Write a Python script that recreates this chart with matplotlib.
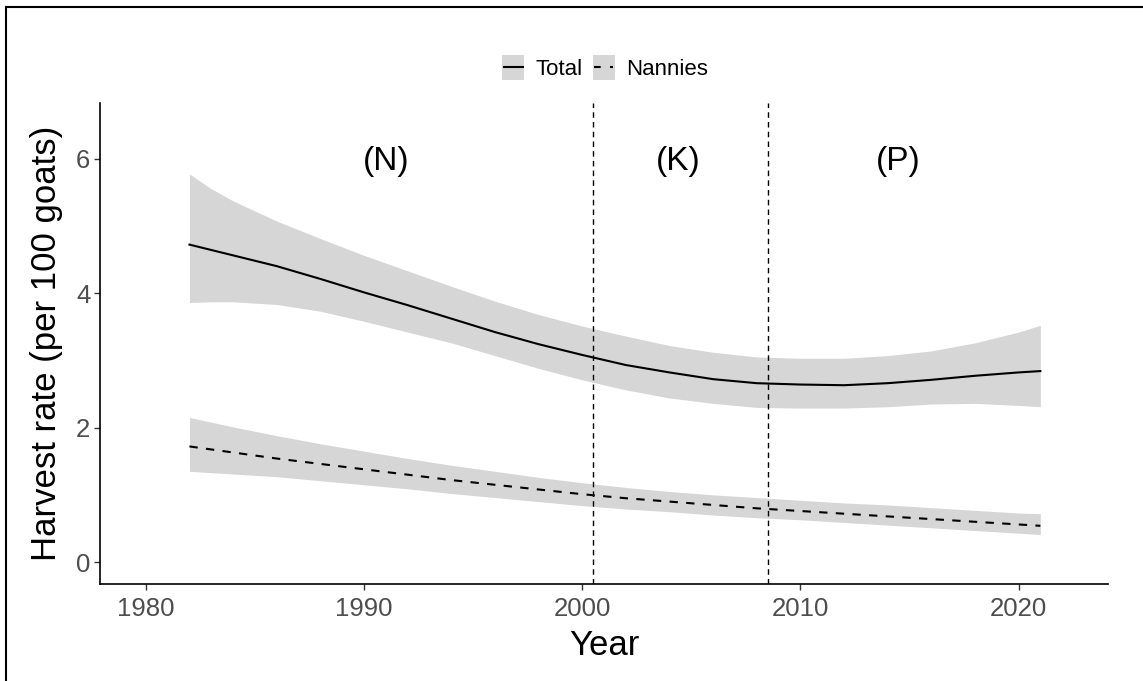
import matplotlib.pyplot as plt
from matplotlib.lines import Line2D
from matplotlib.patches import Rectangle
from matplotlib.legend_handler import HandlerBase

plt.rcParams['font.family'] = ['Liberation Sans', 'DejaVu Sans']

years = [1982, 1983, 1984, 1986, 1988, 1990, 1992, 1994, 1996, 1998, 2000,
         2002, 2004, 2006, 2008, 2010, 2012, 2014, 2016, 2018, 2020, 2021]

# fitted harvest rate (per 100 goats) with confidence band
total_fit = [4.72, 4.64, 4.56, 4.40, 4.21, 4.01, 3.82, 3.62, 3.42, 3.24, 3.08,
             2.93, 2.82, 2.72, 2.66, 2.64, 2.63, 2.66, 2.71, 2.77, 2.82, 2.84]
total_hi = [5.77, 5.55, 5.37, 5.07, 4.81, 4.56, 4.33, 4.10, 3.88, 3.68, 3.51,
            3.36, 3.22, 3.12, 3.05, 3.03, 3.03, 3.07, 3.14, 3.26, 3.42, 3.52]
total_lo = [3.86, 3.87, 3.87, 3.83, 3.73, 3.58, 3.42, 3.26, 3.07, 2.88, 2.71,
            2.56, 2.44, 2.36, 2.30, 2.29, 2.29, 2.31, 2.35, 2.36, 2.33, 2.31]

nanny_fit = [1.72, 1.675, 1.63, 1.54, 1.46, 1.38, 1.30, 1.22, 1.15, 1.08, 1.01,
             0.95, 0.90, 0.85, 0.80, 0.76, 0.72, 0.68, 0.64, 0.60, 0.56, 0.54]
nanny_hi = [2.15, 2.08, 2.01, 1.88, 1.76, 1.65, 1.54, 1.44, 1.35, 1.26, 1.18,
            1.11, 1.05, 1.00, 0.96, 0.92, 0.88, 0.85, 0.81, 0.77, 0.73, 0.72]
nanny_lo = [1.35, 1.33, 1.31, 1.27, 1.21, 1.15, 1.09, 1.02, 0.96, 0.90, 0.84,
            0.79, 0.75, 0.70, 0.66, 0.63, 0.59, 0.55, 0.51, 0.47, 0.43, 0.41]

breaks = [2000.5, 2008.5]
periods = ['(N)', '(K)', '(P)']
period_x = [1991, 2004.4, 2014.5]

band = '#d6d6d6'
tick_grey = '#4d4d4d'


class KeyHandler(HandlerBase):
    # grey square key with the line drawn across it
    def create_artists(self, legend, orig_handle, xdescent, ydescent,
                       width, height, fontsize, trans):
        x0, y0 = -xdescent, -ydescent
        rect = Rectangle((x0, y0), width, height, facecolor=band,
                         edgecolor='none', transform=trans)
        ln = Line2D([x0 + width * 0.08, x0 + width * 0.92],
                    [y0 + height / 2] * 2)
        ln.update_from(orig_handle)
        ln.set_transform(trans)
        return [rect, ln]


fig = plt.figure(figsize=(11.43, 6.81), dpi=100)
ax = fig.add_axes([100 / 1143, 97 / 681, 1008 / 1143, 481 / 681])

ax.fill_between(years, total_lo, total_hi, color=band, lw=0)
ax.fill_between(years, nanny_lo, nanny_hi, color=band, lw=0)
ax.plot(years, total_fit, color='black', lw=1.5)
ax.plot(years, nanny_fit, color='black', lw=1.5, dashes=(4, 4))

for b in breaks:
    ax.axvline(b, color='black', lw=1, dashes=(4, 3))
for lab, x in zip(periods, period_x):
    ax.text(x, 5.96, lab, ha='center', va='center', fontsize=24)

ax.set_xlim(1977.9, 2024.1)
ax.set_ylim(-0.325, 6.825)
ax.set_xticks([1980, 1990, 2000, 2010, 2020])
ax.set_yticks([0, 2, 4, 6])
ax.tick_params(colors='#333333', labelcolor=tick_grey, labelsize=18.5,
               length=4, width=1)
ax.tick_params(axis='x', pad=5)
ax.tick_params(axis='y', pad=3)
ax.set_xlabel('Year', fontsize=25)
ax.set_ylabel('Harvest rate (per 100 goats)', fontsize=25)
ax.xaxis.set_label_coords(0.5, -0.093)
ax.yaxis.set_label_coords(-0.037, 0.5)
for s in ['top', 'right']:
    ax.spines[s].set_visible(False)
for s in ['left', 'bottom']:
    ax.spines[s].set_linewidth(1.2)

handles = [Line2D([], [], color='black', lw=1.5),
           Line2D([], [], color='black', lw=1.5, dashes=(3.2, 4.5))]
fig.legend(handles, ['Total', 'Nannies'], loc='center',
           bbox_to_anchor=(605 / 1143, 1 - 67.5 / 681),
           ncol=2, frameon=False, fontsize=16, handlelength=1.0, handleheight=1.35,
           handletextpad=0.5, columnspacing=0.45, borderpad=0,
           handler_map={Line2D: KeyHandler()})

# outer frame (top and left edges)
fig.add_artist(Line2D([6 / 1143, 6 / 1143], [0, 1 - 7 / 681], color='black', lw=1.5,
                      transform=fig.transFigure))
fig.add_artist(Line2D([6 / 1143, 1], [1 - 7 / 681, 1 - 7 / 681], color='black', lw=1.5,
                      transform=fig.transFigure))

fig.savefig('out.png', dpi=100)
